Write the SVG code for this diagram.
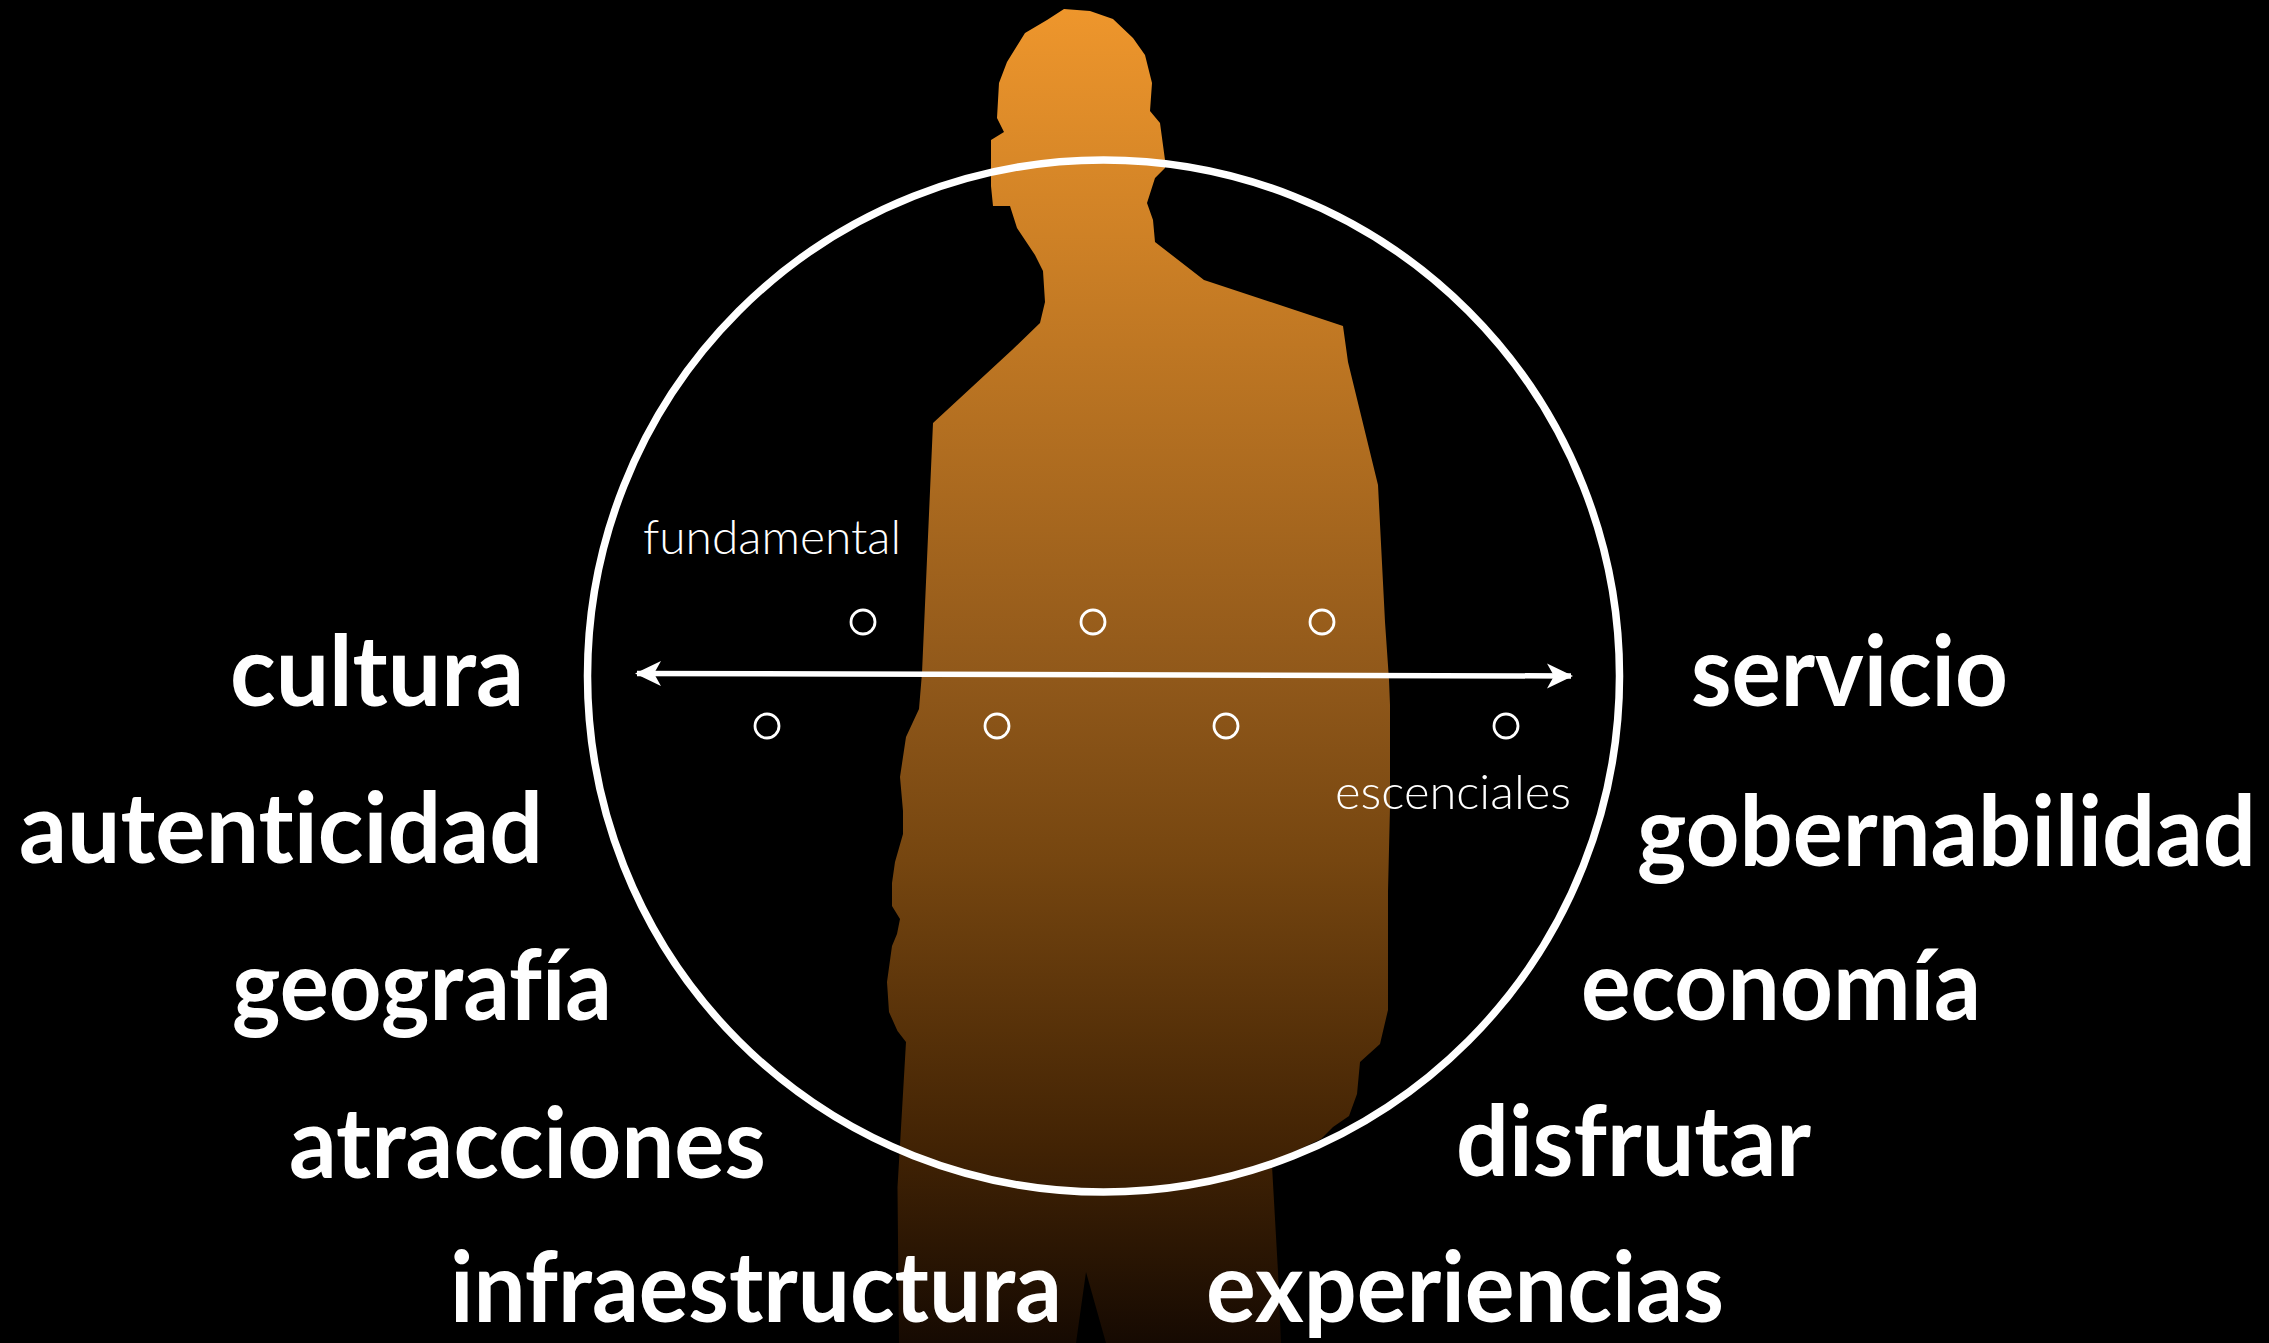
<svg xmlns="http://www.w3.org/2000/svg" width="2269" height="1343" viewBox="0 0 2269 1343">
  <style>
    text { font-variant-ligatures: none; fill: #fff; font-family: "Lato", "Liberation Sans", sans-serif; }
    .big { font-weight: 700; font-size: 98px; }
    .small { font-weight: 300; font-size: 48px; }
    .dot { fill: none; stroke: #fff; stroke-width: 2.8; }
  </style>
  <defs>
    <linearGradient id="figureFill" gradientUnits="userSpaceOnUse" x1="0" y1="9" x2="0" y2="1343">
      <stop offset="0" stop-color="#ee962c"/>
      <stop offset="0.503" stop-color="#90581a"/>
      <stop offset="0.638" stop-color="#764610"/>
      <stop offset="0.852" stop-color="#422304"/>
      <stop offset="1" stop-color="#160a02"/>
    </linearGradient>
    <marker id="head" viewBox="0 0 27 27" refX="24" refY="13.5" markerWidth="27" markerHeight="27" markerUnits="userSpaceOnUse" orient="auto-start-reverse">
      <path d="M0 1 L26 13.5 L0 26 L7 13.5 Z" fill="#fff"/>
    </marker>
  </defs>
  <rect width="2269" height="1343" fill="#000"/>
  <g id="figure">
    <path fill="url(#figureFill)" d="M1064 9 L1090 11 L1113 19 L1133 38 L1145 55 L1152 83 L1150 111 L1160 123 L1165 160 L1165 168 L1155 178 L1147 203 L1153 220 L1155 242 L1204 280 L1343 326 L1348 362 L1378 485 L1385 622 L1389 680 L1390 705 L1390 807 L1388 891 L1388 1010 L1380 1044 L1360 1062 L1357 1094 L1349 1116 L1333 1127 L1321 1139 L1285 1156 L1272 1166 L1278 1272 L1281 1343 L1106 1343 L1086 1272 L1076 1343 L899 1343 L897.5 1187 L900 1145 L906 1042 L897.5 1031 L889 1012 L887 982 L892 946 L897 934 L900 919 L892 906 L892 883 L895 862 L903 834 L903 811 L900 777 L906 737 L919 709 L922 673 L933 423 L1012 350 L1040 323 L1045 302 L1043 271 L1035 255 L1017 228 L1010 206 L993 206 L991 186 L991 140 L1004 132 L997 118 L999 83 L1007 62 L1025 33 L1047 20 Z"/>
  </g>
  <g id="ring">
    <circle cx="1103.5" cy="676" r="516" fill="none" stroke="#fff" stroke-width="7.5"/>
  </g>
  <g id="connectors">
    <line x1="637" y1="673.5" x2="1571" y2="676" stroke="#fff" stroke-width="5.5" marker-start="url(#head)" marker-end="url(#head)"/>
  </g>
  <g id="dots">
    <circle class="dot" cx="863" cy="622" r="12"/>
    <circle class="dot" cx="1093" cy="622" r="12"/>
    <circle class="dot" cx="1322" cy="622" r="12"/>
    <circle class="dot" cx="767" cy="726" r="12"/>
    <circle class="dot" cx="997" cy="726" r="12"/>
    <circle class="dot" cx="1226" cy="726" r="12"/>
    <circle class="dot" cx="1506" cy="726" r="12"/>
  </g>
  <g id="labels">
    <text class="small" x="643" y="554" textLength="258" lengthAdjust="spacingAndGlyphs">fundamental</text>
    <text class="small" x="1335" y="809" textLength="236" lengthAdjust="spacingAndGlyphs">escenciales</text>
    <text class="big" x="230" y="706" textLength="294" lengthAdjust="spacingAndGlyphs">cultura</text>
    <text class="big" x="19" y="863" textLength="524" lengthAdjust="spacingAndGlyphs">autenticidad</text>
    <text class="big" x="232" y="1020" textLength="380" lengthAdjust="spacingAndGlyphs">geografía</text>
    <text class="big" x="289" y="1178" textLength="477" lengthAdjust="spacingAndGlyphs">atracciones</text>
    <text class="big" x="450" y="1322" textLength="612" lengthAdjust="spacingAndGlyphs">infraestructura</text>
    <text class="big" x="1691" y="706" textLength="317" lengthAdjust="spacingAndGlyphs">servicio</text>
    <text class="big" x="1637" y="866" textLength="619" lengthAdjust="spacingAndGlyphs">gobernabilidad</text>
    <text class="big" x="1581" y="1020" textLength="400" lengthAdjust="spacingAndGlyphs">economía</text>
    <text class="big" x="1456" y="1176" textLength="355" lengthAdjust="spacingAndGlyphs">disfrutar</text>
    <text class="big" x="1206" y="1322" textLength="518" lengthAdjust="spacingAndGlyphs">experiencias</text>
  </g>
</svg>
